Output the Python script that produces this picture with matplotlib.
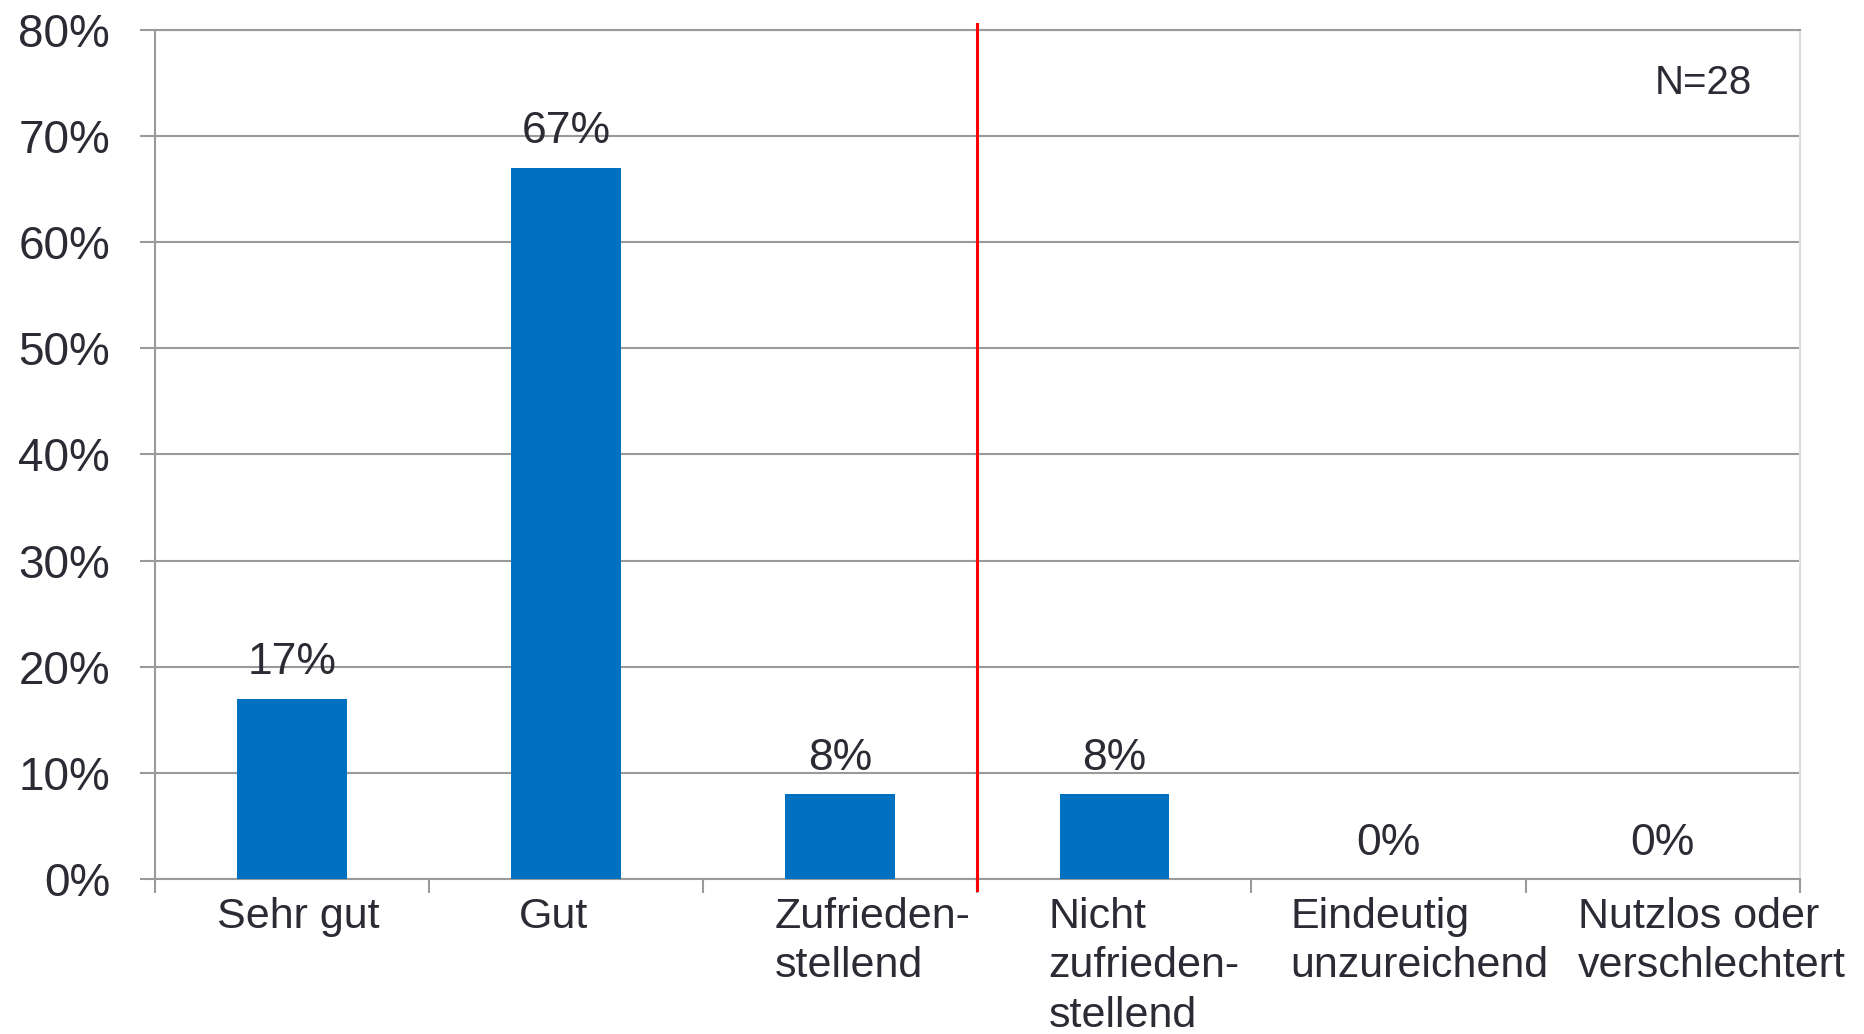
import matplotlib.pyplot as plt

# Daten
kategorien = ['Sehr gut', 'Gut', 'Zufrieden-\nstellend', 'Nicht\nzufrieden-\nstellend',
              'Eindeutig\nunzureichend', 'Nutzlos oder\nverschlechtert']
werte = [17, 67, 8, 8, 0, 0]
y_ticks = [0, 10, 20, 30, 40, 50, 60, 70, 80]
n_text = 'N=28'

plt.rcParams['font.family'] = ['Liberation Sans', 'DejaVu Sans']
textfarbe = '#2b2b35'
gitter = '#9a9a9a'

fig = plt.figure(figsize=(18.65, 10.34), dpi=100)
ax = fig.add_axes([0.0829, 0.1499, 0.9651 - 0.0829, 0.9713 - 0.1499])

x = list(range(len(kategorien)))
ax.bar(x, werte, width=0.4, color='#0070C0', zorder=3)

# Werte über den Balken
for xi, w in zip(x, werte):
    ax.annotate(f'{w}%', (xi, w), xytext=(0, 11), textcoords='offset points',
                ha='center', va='bottom', fontsize=32, color=textfarbe)

ax.set_xlim(-0.5, len(kategorien) - 0.5)
ax.set_ylim(0, 80)
ax.set_yticks(y_ticks)
ax.set_yticklabels([f'{t}%' for t in y_ticks], fontsize=33, color=textfarbe)
ax.yaxis.grid(True, color=gitter, linewidth=1.5, zorder=0)
ax.tick_params(axis='y', length=11, width=1.5, color=gitter, pad=21)

# x-Ticks an den Kategoriegrenzen, Beschriftungen als Text
ax.set_xticks([i - 0.5 for i in range(len(kategorien) + 1)])
ax.set_xticklabels([])
ax.tick_params(axis='x', length=10, width=1.5, color=gitter)
versatz = [0.226, 0.33, 0.26, 0.26, 0.143, 0.19]
for xi, lab, v in zip(x, kategorien, versatz):
    ax.text(xi - 0.5 + v, -1.7, lab, ha='left', va='top', fontsize=31,
            color=textfarbe, linespacing=1.3, transform=ax.transData)

for s in ['left', 'bottom', 'top']:
    ax.spines[s].set_color(gitter)
    ax.spines[s].set_linewidth(1.5)
ax.spines['right'].set_color('#dddddd')
ax.spines['right'].set_linewidth(1.5)

# rote Trennlinie
ax.plot([2.5, 2.5], [-1.05, 80.5], color='#ff0000', linewidth=2.2, clip_on=False, zorder=5)

ax.text(0.971, 0.937, n_text, transform=ax.transAxes, ha='right', va='center',
        fontsize=29, color=textfarbe)

fig.savefig('out.png', dpi=100)
